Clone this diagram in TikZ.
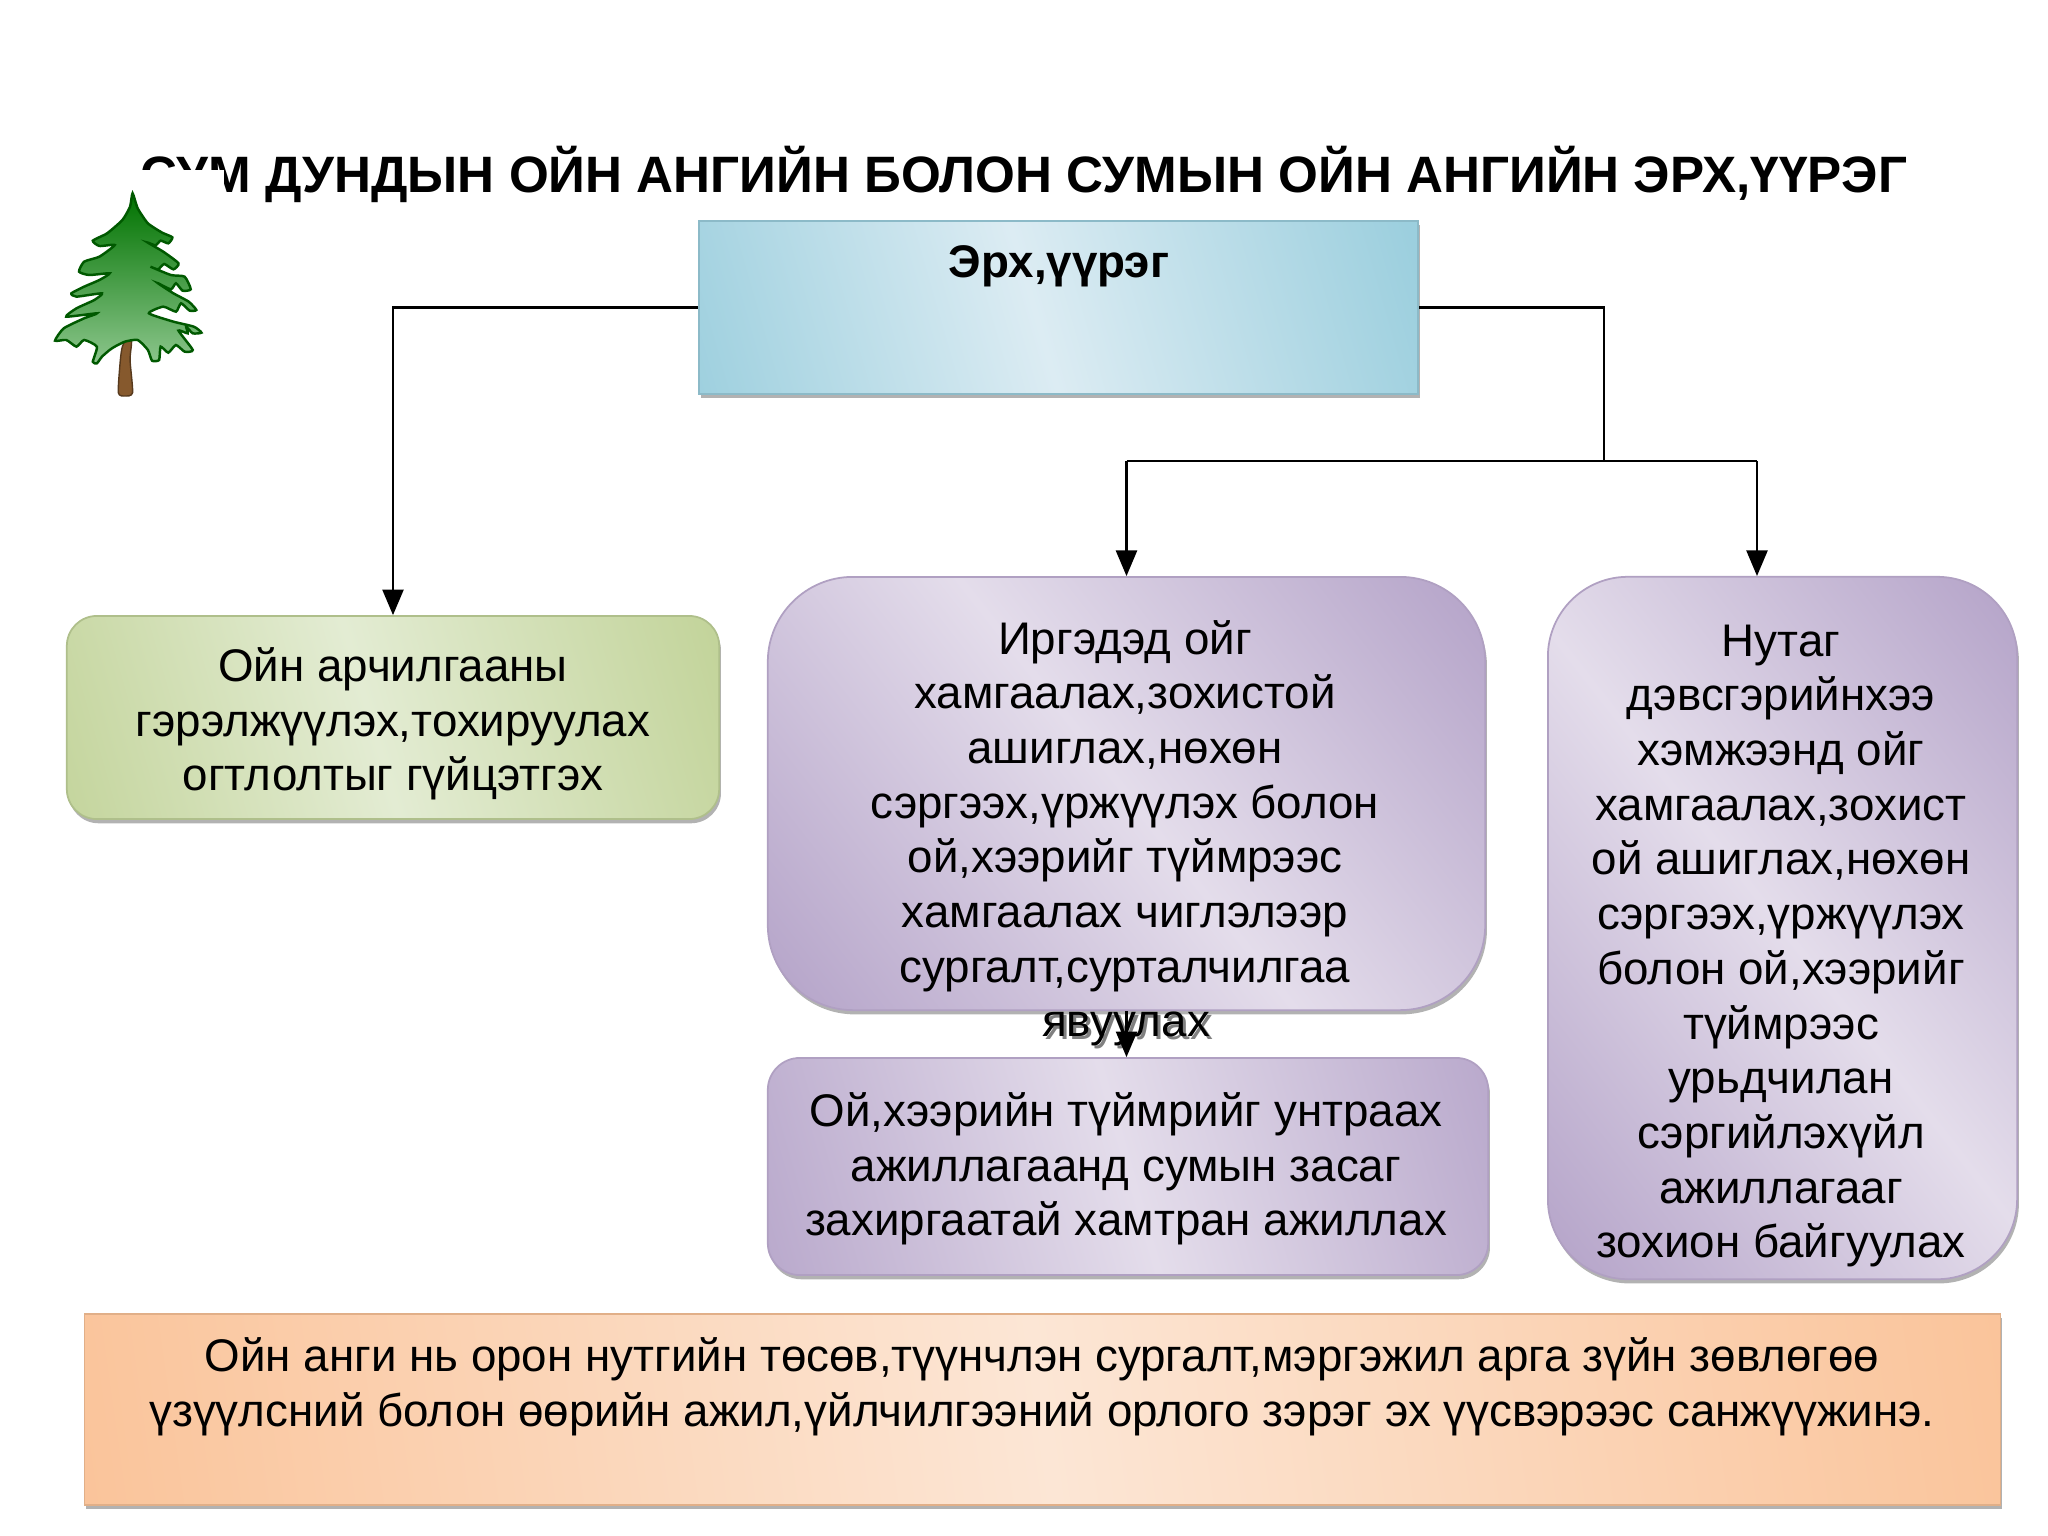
\documentclass[tikz,border=0pt]{standalone}
\usepackage{fontspec}
\setmainfont{Liberation Sans}
\usetikzlibrary{shapes,arrows,shadows}

\definecolor{bluedark}{HTML}{9CCFDE}
\definecolor{bluelight}{HTML}{DCECF3}
\definecolor{greendark}{HTML}{C3D49B}
\definecolor{greenlight}{HTML}{E3ECD3}
\definecolor{purpledark}{HTML}{B5A4C9}
\definecolor{purplelight}{HTML}{E4DDEB}
\definecolor{orangedark}{HTML}{FAC297}
\definecolor{orangelight}{HTML}{FCE6D5}

\pgfdeclarehorizontalshading{blueband}{100bp}{color(0bp)=(bluedark); color(18bp)=(bluedark); color(48bp)=(bluelight); color(80bp)=(bluedark); color(100bp)=(bluedark)}
\pgfdeclarehorizontalshading{greenband}{100bp}{color(0bp)=(greendark); color(18bp)=(greendark); color(48bp)=(greenlight); color(80bp)=(greendark); color(100bp)=(greendark)}
\pgfdeclarehorizontalshading{purpleband}{100bp}{color(0bp)=(purpledark); color(16bp)=(purpledark); color(50bp)=(purplelight); color(84bp)=(purpledark); color(100bp)=(purpledark)}
\pgfdeclarehorizontalshading{orangeband}{100bp}{color(0bp)=(orangedark); color(20bp)=(orangedark); color(50bp)=(orangelight); color(80bp)=(orangedark); color(100bp)=(orangedark)}

\tikzset{
  boxshadow/.style={drop shadow={shadow xshift=.5pt,shadow yshift=-1.2pt,fill=black!60,opacity=.5}},
  plainbox/.style={rectangle,inner sep=0pt,line width=.5pt,boxshadow},
  topbox/.style={plainbox,draw=bluedark!90!black,shading=blueband,shading angle=16},
  greenbox/.style={plainbox,rounded corners=.3cm,draw=greendark!90!black,shading=greenband,shading angle=16},
  purplebox/.style={plainbox,draw=purpledark!90!gray,shading=purpleband,shading angle=38},
  lowerbox/.style={plainbox,rounded corners=.32cm,draw=purpledark!90!gray,shading=purpleband,shading angle=16},
  orangebox/.style={plainbox,draw=orangedark!90!black,shading=orangeband,shading angle=8},
  boxtext/.style={align=center,inner sep=0pt,font=\fontsize{13}{15.55}\selectfont},
  headtext/.style={inner sep=0pt,font=\bfseries\fontsize{14.55}{17}\selectfont},
  labeltext/.style={inner sep=0pt,font=\bfseries\fontsize{13}{15.55}\selectfont}
}

\begin{document}
\begin{tikzpicture}[x=.01cm,y=-.01cm,line width=.65pt,->,>=triangle 45]
\useasboundingbox (0,0) rectangle (2048,1536);

\node[headtext] (title) at (1024,174) {СУМ ДУНДЫН ОЙН АНГИЙН БОЛОН СУМЫН ОЙН АНГИЙН ЭРХ,ҮҮРЭГ};

% white back of the tree picture
\fill[white] (0,170) rectangle (224,560);
\begin{scope}[shift={(0,120)},xscale=.51,yscale=.3333]
\fill[brown!70!black,draw=brown!45!black,line width=.4pt] plot[smooth cycle,tension=.4] coordinates {(250,650) (258,665) (255,720) (260,818) (245,828) (232,818) (236,720) (240,680)};
\shade[top color=green!45!black,bottom color=green!50!black!45!white,draw=green!35!black,line width=.7pt]
  plot[smooth cycle,tension=.35] coordinates {(260,220) (270,265) (290,310) (318,338) (338,352) (330,370) (315,362) (305,376) (290,368) (320,395) (350,430) (340,448) (322,432) (310,448) (295,440) (335,465) (362,470) (374,508) (358,512) (345,490) (335,508) (310,490) (340,520) (370,545) (385,570) (372,572) (355,550) (345,575) (320,560) (292,580) (340,605) (380,620) (395,638) (378,640) (365,620) (368,640) (350,632) (378,690) (362,695) (345,675) (330,698) (315,680) (312,720) (298,722) (290,690) (270,660) (245,665) (225,680) (215,690) (200,710) (190,730) (182,725) (190,680) (165,660) (150,680) (130,660) (108,662) (125,625) (165,595) (190,580) (130,590) (150,565) (185,540) (200,520) (150,530) (140,520) (165,500) (195,480) (215,460) (175,465) (155,455) (165,425) (195,410) (225,375) (195,378) (182,362) (210,340) (240,300) (255,260)};
\end{scope}

\node[topbox,minimum width=7.19cm,minimum height=1.73cm] (top) at (1058.5,307.5) {};
\node[greenbox,minimum width=6.52cm,minimum height=2.03cm] (green) at (393,717.5) {};
\node[purplebox,rounded corners=.85cm,minimum width=7.17cm,minimum height=4.33cm] (left) at (1126.5,793.5) {};
\node[lowerbox,minimum width=7.2cm,minimum height=2.17cm] (lower) at (1128,1166.5) {};
\node[purplebox,rounded corners=.8cm,minimum width=4.69cm,minimum height=7.02cm] (right) at (1782.5,928) {};
\node[orangebox,minimum width=19.15cm,minimum height=1.91cm] (bottom) at (1042.5,1409.5) {};

\node[labeltext] (topText) at (1059,266) {Эрх,үүрэг};
\node[boxtext] (greenText) at (393,724) {Ойн арчилгааны\\гэрэлжүүлэх,тохируулах\\огтлолтыг гүйцэтгэх};
\node[boxtext] (leftText) at (1125,806) {Иргэдэд ойг\\хамгаалах,зохистой\\ашиглах,нөхөн\\сэргээх,үржүүлэх болон\\ой,хээрийг түймрээс\\хамгаалах чиглэлээр\\сургалт,сурталчилгаа};
\node[boxtext,text=gray] (lastShadow) at (1129,1032) {явуулах};
\node[boxtext] (lastText) at (1126,1029) {явуулах};
\node[boxtext] (lowerText) at (1126,1169) {Ой,хээрийн түймрийг унтраах\\ажиллагаанд сумын засаг\\захиргаатай хамтран ажиллах};
\node[boxtext] (rightText) at (1781,946) {Нутаг\\дэвсгэрийнхээ\\хэмжээнд ойг\\хамгаалах,зохист\\ой ашиглах,нөхөн\\сэргээх,үржүүлэх\\болон ой,хээрийг\\түймрээс\\урьдчилан\\сэргийлэхүйл\\ажиллагааг\\зохион байгуулах};
\node[boxtext] (bottomText) at (1042,1387) {Ойн анги нь орон нутгийн төсөв,түүнчлэн сургалт,мэргэжил арга зүйн зөвлөгөө\\үзүүлсний болон өөрийн ажил,үйлчилгээний орлого зэрэг эх үүсвэрээс санжүүжинэ.};

\coordinate (busright) at (1757,461);
\coordinate (junction) at (1604,461);
\draw (top.west) -| (green.north);
\draw[-] (top.east) -| (junction);
\draw[-] (busright -| left.north) -- (busright);
\draw (busright -| left.north) -- (left.north);
\draw (busright) -- (busright |- right.north);
\draw (left.south) -- (lower.north -| left.south);
\end{tikzpicture}
\end{document}
